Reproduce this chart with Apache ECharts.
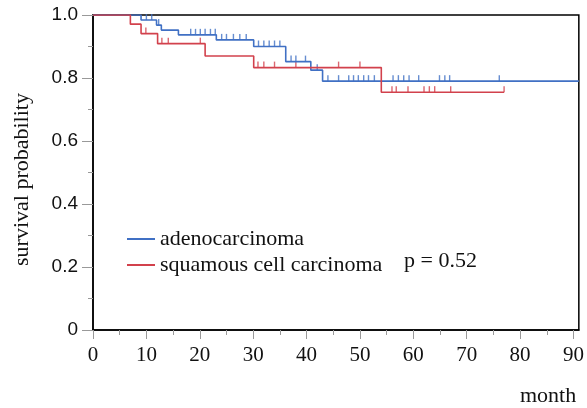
<!DOCTYPE html>
<html>
<head>
<meta charset="utf-8">
<script src="https://cdn.jsdelivr.net/npm/echarts@6/dist/echarts.min.js"></script>
<style>html,body{margin:0;padding:0;background:#fff;}#c{width:587px;height:408px;}</style>
</head>
<body>
<div id="c"></div>
<script>
// ---- data ----
const adenoTimes = [0, 9.0, 11.9, 12.8, 16.0, 23.1, 30.1, 36.1, 40.8, 43.0, 91];
const adenoSurv  = [1, 0.984, 0.968, 0.952, 0.937, 0.921, 0.900, 0.852, 0.825, 0.790, 0.790];
const adenoCensor = [10.0, 11.0, 12.3, 18.3, 19.2, 20.1, 21.0, 22.0, 22.9, 24.1, 25.0, 26.3, 27.5, 28.7,
  31.0, 32.0, 33.0, 34.0, 35.0, 37.1, 38.0, 39.8, 42.0, 44.0, 46.0, 47.9, 48.8, 49.7, 50.7, 51.6, 52.7,
  56.2, 57.2, 58.2, 59.2, 61.0, 64.9, 65.9, 66.8, 76.1];

const squamTimes = [0, 7.0, 9.0, 12.1, 21.0, 30.1, 54.0, 77.0];
const squamSurv  = [1, 0.971, 0.941, 0.909, 0.870, 0.833, 0.755, 0.755];
const squamCensor = [9.9, 12.9, 14.1, 20.1, 30.9, 32.0, 34.0, 38.0, 46.0, 50.0,
  56.0, 56.8, 59.0, 62.0, 63.0, 64.0, 67.0, 77.0];

const seriesNames = ['adenocarcinoma', 'squamous cell carcinoma'];
const xTickValues = [0, 10, 20, 30, 40, 50, 60, 70, 80, 90];
const xTickLabels = ['0', '10', '20', '30', '40', '50', '60', '70', '80', '90'];
const xMinorTicks = [5, 15, 25, 35, 45, 55, 65, 75, 85];
const yTickValues = [0, 0.2, 0.4, 0.6, 0.8, 1.0];
const yTickLabels = ['0', '0.2', '0.4', '0.6', '0.8', '1.0'];
const yMinorTicks = [0.1, 0.3, 0.5, 0.7, 0.9];
const pText = 'p = 0.52';

// ---- helpers ----
function pairs(ts, ss) { return ts.map((t, i) => [t, ss[i]]); }
function levelAt(ts, ss, t) {
  let v = ss[0];
  for (let i = 0; i < ts.length; i++) { if (ts[i] <= t) v = ss[i]; }
  return v;
}
function censorPts(c, ts, ss) { return c.map(t => [t, levelAt(ts, ss, t)]); }

const BLUE = '#4070c4';
const RED = '#d2414c';
const SERIF = '"Liberation Serif", "DejaVu Serif", serif';
const SANS = '"Liberation Sans", Arial, sans-serif';

const chart = echarts.init(document.getElementById('c'));
const tickSym = 'rect';
chart.setOption({
  animation: false,
  grid: { left: 93, top: 15, right: 3, bottom: 78, show: true, borderColor: '#000', borderWidth: 1.5, containLabel: false },
  legend: {
    data: seriesNames,
    orient: 'vertical', left: 122, top: 222, itemGap: 2,
    icon: 'rect', itemWidth: 28, itemHeight: 2,
    textStyle: { fontFamily: SERIF, fontSize: 22, color: '#111', lineHeight: 24 }
  },
  xAxis: [{
    type: 'value', min: 0, max: 91,
    axisLine: { show: true, lineStyle: { color: '#000', width: 1.5 } },
    axisTick: { show: true, customValues: xTickValues, length: 9, lineStyle: { color: '#999' } },
    axisLabel: { customValues: xTickValues, formatter: v => xTickLabels[xTickValues.indexOf(v)] ?? '',
      fontFamily: SERIF, fontSize: 21, color: '#111', margin: 15 },
    splitLine: { show: false }
  }, {
    type: 'value', min: 0, max: 91, position: 'bottom',
    axisLine: { show: false },
    axisTick: { show: true, customValues: xMinorTicks, length: 5, lineStyle: { color: '#999' } },
    axisLabel: { show: false }, splitLine: { show: false }
  }],
  yAxis: [{
    type: 'value', min: 0, max: 1,
    name: 'survival probability', nameLocation: 'middle', nameGap: 60,
    nameTextStyle: { fontFamily: SERIF, fontSize: 22, color: '#111', padding: [0, 14, 0, 0] },
    axisLine: { show: true, lineStyle: { color: '#000', width: 1.5 } },
    axisTick: { show: true, customValues: yTickValues, length: 11, lineStyle: { color: '#999' } },
    axisLabel: { customValues: yTickValues, formatter: v => yTickLabels[yTickValues.findIndex(x => Math.abs(x - v) < 1e-9)] ?? '',
      fontFamily: SANS, fontSize: 19, color: '#111', margin: 15 },
    splitLine: { show: false }
  }, {
    type: 'value', min: 0, max: 1, position: 'left',
    axisLine: { show: false },
    axisTick: { show: true, customValues: yMinorTicks, length: 5, lineStyle: { color: '#999' } },
    axisLabel: { show: false }, splitLine: { show: false }
  }],
  series: [
    { name: seriesNames[0], type: 'line', step: 'end', data: pairs(adenoTimes, adenoSurv),
      showSymbol: false, lineStyle: { color: BLUE, width: 1.6 }, itemStyle: { color: BLUE } },
    { name: seriesNames[1], type: 'line', step: 'end', data: pairs(squamTimes, squamSurv),
      showSymbol: false, lineStyle: { color: RED, width: 1.6 }, itemStyle: { color: RED } },
    { name: 'adeno-censor', type: 'scatter', data: censorPts(adenoCensor, adenoTimes, adenoSurv),
      symbol: tickSym, symbolSize: [1.4, 6], symbolOffset: [0, -3], itemStyle: { color: BLUE } },
    { name: 'squam-censor', type: 'scatter', data: censorPts(squamCensor, squamTimes, squamSurv),
      symbol: tickSym, symbolSize: [1.4, 6], symbolOffset: [0, -3], itemStyle: { color: RED } }
  ],
  graphic: [
    { type: 'text', left: 404, top: 250, style: { text: pText, font: '22px ' + SERIF, fill: '#111' } },
    { type: 'text', left: 520, top: 385, style: { text: 'month', font: '22px ' + SERIF, fill: '#111' } }
  ]
});
</script>
</body>
</html>
